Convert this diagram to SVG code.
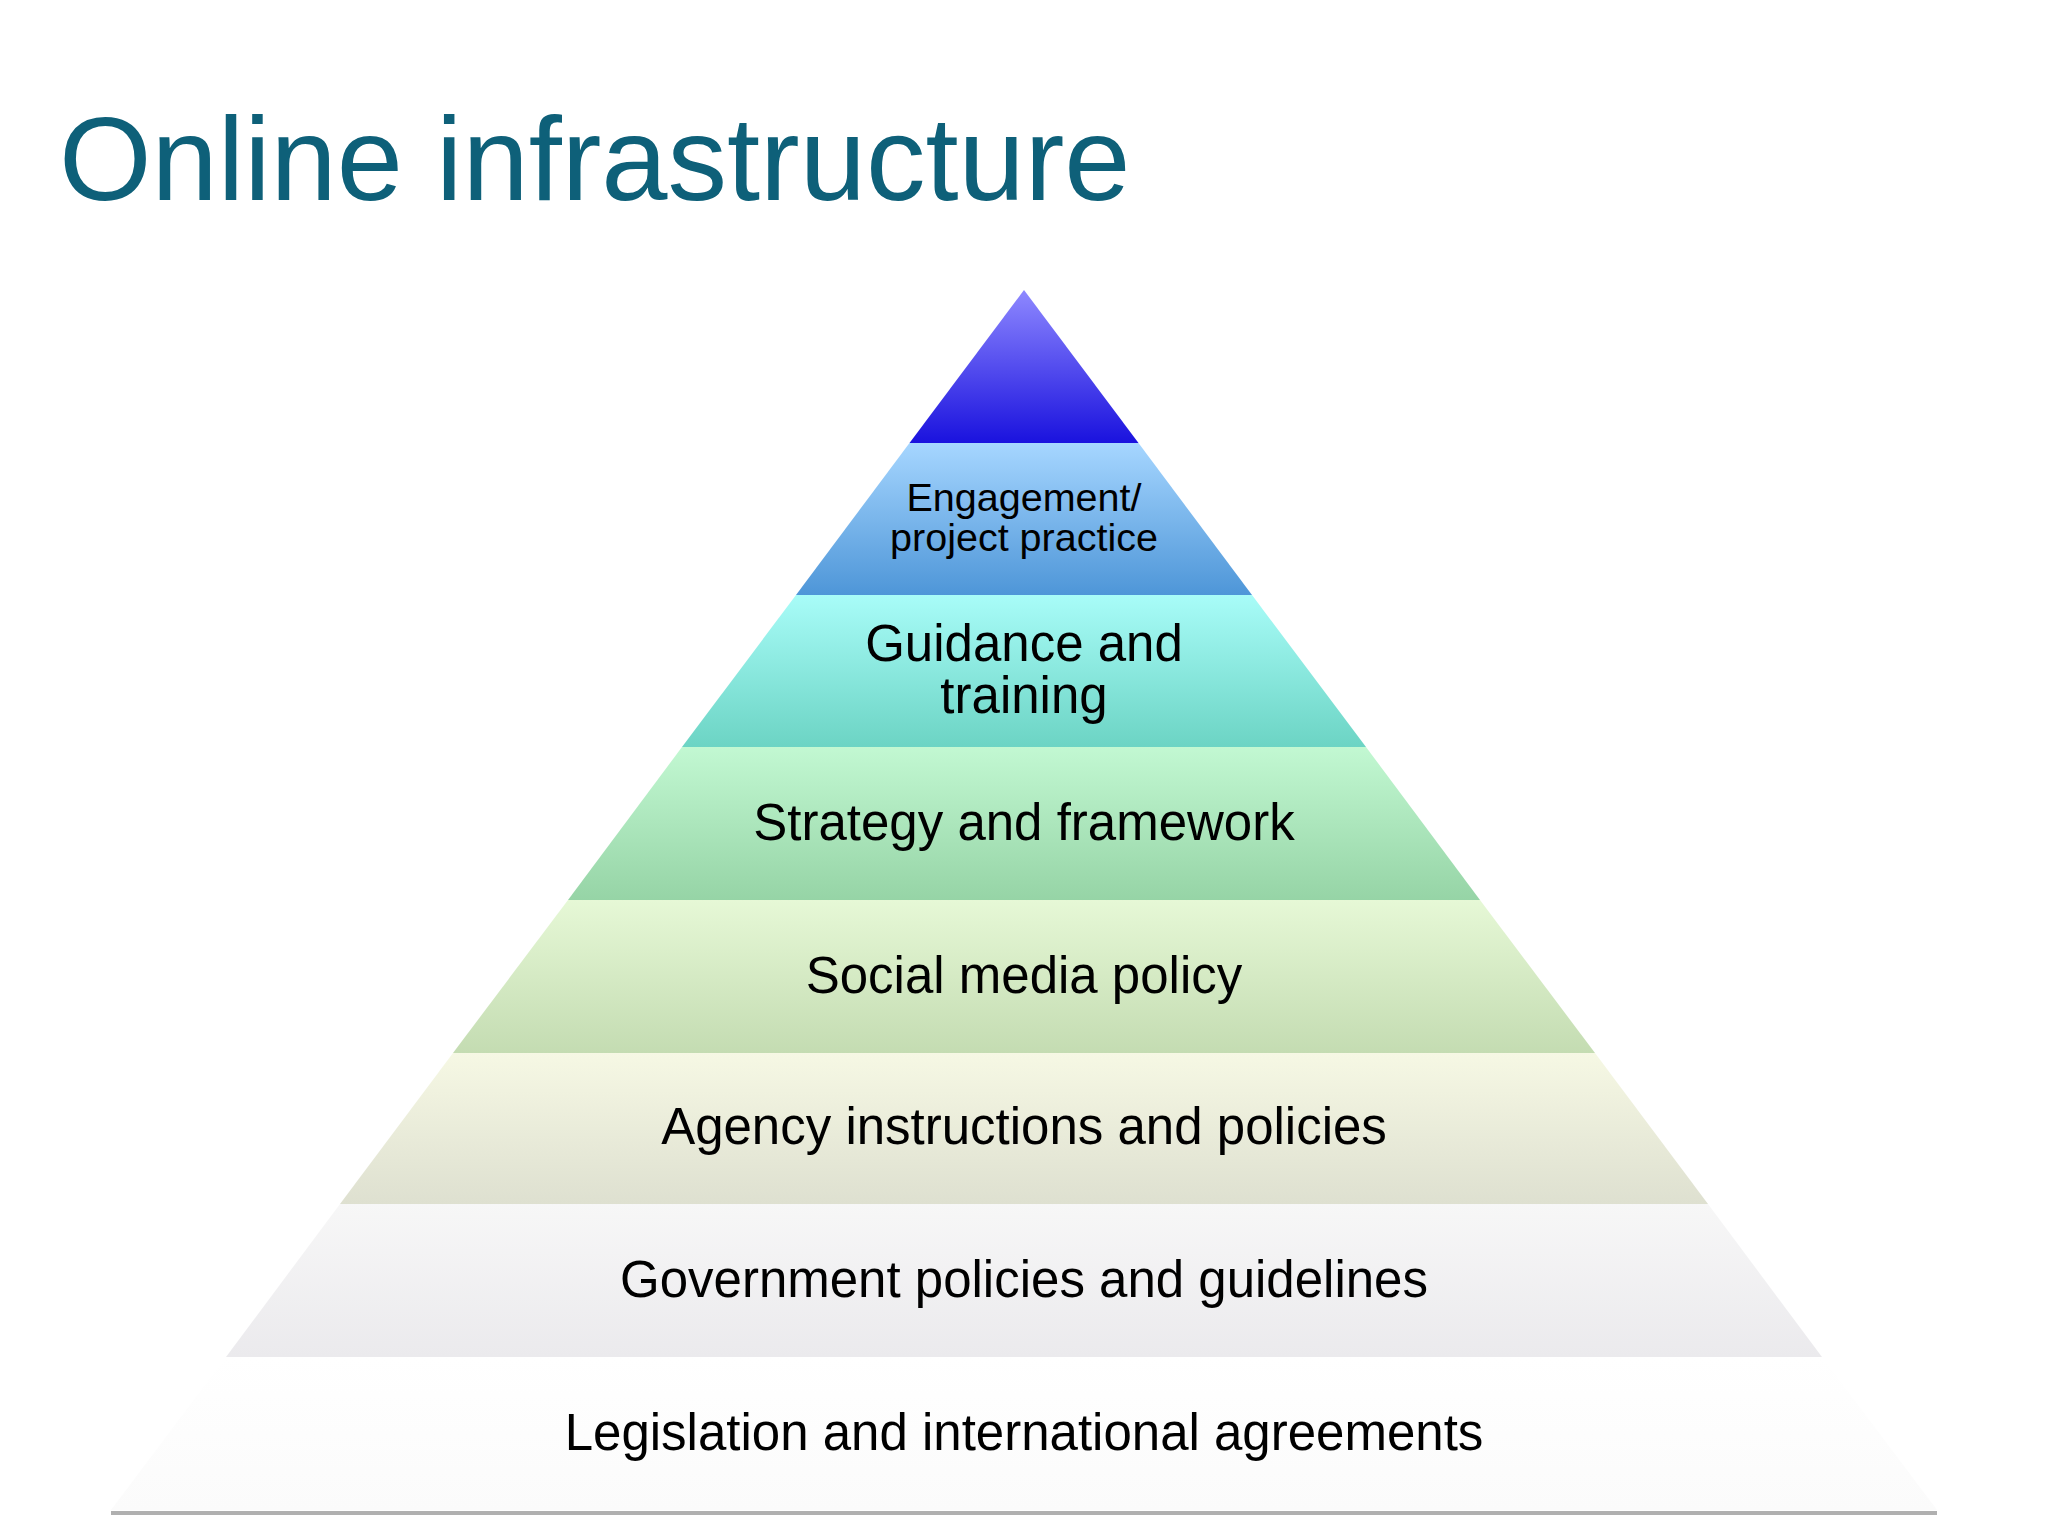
<svg xmlns="http://www.w3.org/2000/svg" width="2048" height="1536" viewBox="0 0 2048 1536">
<defs>
<linearGradient id="g1" x1="0" y1="0" x2="0" y2="1"><stop offset="0" stop-color="#8e88ff"/><stop offset="1" stop-color="#1a12de"/></linearGradient>
<linearGradient id="g2" x1="0" y1="0" x2="0" y2="1"><stop offset="0" stop-color="#a6d6ff"/><stop offset="1" stop-color="#4e96d8"/></linearGradient>
<linearGradient id="g3" x1="0" y1="0" x2="0" y2="1"><stop offset="0" stop-color="#a8fcf8"/><stop offset="1" stop-color="#6cd4c4"/></linearGradient>
<linearGradient id="g4" x1="0" y1="0" x2="0" y2="1"><stop offset="0" stop-color="#c2f8d2"/><stop offset="1" stop-color="#96d4a6"/></linearGradient>
<linearGradient id="g5" x1="0" y1="0" x2="0" y2="1"><stop offset="0" stop-color="#e6f8d6"/><stop offset="1" stop-color="#c4dcb2"/></linearGradient>
<linearGradient id="g6" x1="0" y1="0" x2="0" y2="1"><stop offset="0" stop-color="#f6f8e4"/><stop offset="1" stop-color="#dee0d0"/></linearGradient>
<linearGradient id="g7" x1="0" y1="0" x2="0" y2="1"><stop offset="0" stop-color="#f7f7f7"/><stop offset="1" stop-color="#ebeaed"/></linearGradient>
<linearGradient id="g8" x1="0" y1="0" x2="0" y2="1"><stop offset="0" stop-color="#ffffff"/><stop offset="1" stop-color="#fbfbfb"/></linearGradient>
</defs>
<style>
text{font-family:"Liberation Sans",Arial,sans-serif;fill:#000;text-anchor:middle}
.l{font-size:51px}
.s{font-size:39.5px}
</style>
<rect width="2048" height="1536" fill="#ffffff"/>
<text x="59" y="200" style="font-size:119px;fill:#0e6079;text-anchor:start">Online infrastructure</text>
<line x1="111" y1="1513" x2="1937" y2="1513" stroke="#b0b0b0" stroke-width="4"/>
<g id="n1"><polygon points="1024,290 1138.5,443 909.5,443" fill="url(#g1)"/></g>
<g id="n2"><polygon points="909.5,443 1138.5,443 1252,595 796,595" fill="url(#g2)"/>
<text class="s" x="1024" y="511">Engagement/</text><text class="s" x="1024" y="551">project practice</text></g>
<g id="n3"><polygon points="796,595 1252,595 1366,747 682,747" fill="url(#g3)"/>
<text class="l" x="1024" y="661">Guidance and</text><text class="l" x="1024" y="713">training</text></g>
<g id="n4"><polygon points="682,747 1366,747 1480,900 568,900" fill="url(#g4)"/>
<text class="l" x="1024" y="840">Strategy and framework</text></g>
<g id="n5"><polygon points="568,900 1480,900 1595,1053 453,1053" fill="url(#g5)"/>
<text class="l" x="1024" y="993">Social media policy</text></g>
<g id="n6"><polygon points="453,1053 1595,1053 1708,1204 340,1204" fill="url(#g6)"/>
<text class="l" x="1024" y="1144">Agency instructions and policies</text></g>
<g id="n7"><polygon points="340,1204 1708,1204 1822,1357 226,1357" fill="url(#g7)"/>
<text class="l" x="1024" y="1297">Government policies and guidelines</text></g>
<g id="n8"><polygon points="226,1357 1822,1357 1937,1510 111,1510" fill="url(#g8)"/>
<text class="l" x="1024" y="1450">Legislation and international agreements</text></g>
<g id="connectors"/>
</svg>
